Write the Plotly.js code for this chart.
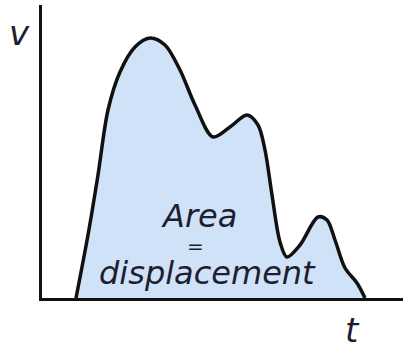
<!DOCTYPE html>
<html>
<head>
<meta charset="utf-8">
<script src="https://cdn.plot.ly/plotly-3.0.1.min.js"></script>
<style>html,body{margin:0;padding:0;background:#fff;}#chart{width:403px;height:351px;}</style>
</head>
<body>
<div id="chart"></div>
<script>
// Time values (arbitrary units) along the curve
const tValues = [34,46,56,66,78,93,108,123,138,153,171,188,205,216,223,230,238,245,258,276,285,293,303,315,323];
// Velocity values (arbitrary units)
const vValues = [0,63,123,188,226,251,260,253,228,193,161,171,183,173,148,103,56,41,53,81,78,58,30,15,0];

const axisLabels = ["v", "t"];
const areaLines = ["Area", "=", "displacement"];

const textColor = "#1e1e30";
const fontFam = "DejaVu Sans, sans-serif";

const trace = {
  x: tValues,
  y: vValues,
  type: "scatter",
  mode: "lines",
  fill: "tozeroy",
  fillcolor: "#cfe2f8",
  line: {color: "#111111", width: 3.5, shape: "spline", smoothing: 0.9},
  hoverinfo: "skip"
};

const layout = {
  width: 403,
  height: 351,
  margin: {l: 42, r: 0, t: 5, b: 53},
  paper_bgcolor: "#ffffff",
  plot_bgcolor: "#ffffff",
  showlegend: false,
  xaxis: {range: [0, 361], showline: true, linewidth: 3, linecolor: "#111111",
          showgrid: false, zeroline: false, showticklabels: false, ticks: "", fixedrange: true},
  yaxis: {range: [0, 293], showline: true, linewidth: 3, linecolor: "#111111",
          showgrid: false, zeroline: false, showticklabels: false, ticks: "", fixedrange: true},
  annotations: [
    {x: -0.062, y: 0.905, xref: "paper", yref: "paper", text: "<i>" + axisLabels[0] + "</i>", showarrow: false,
     font: {family: fontFam, size: 34, color: textColor}, xanchor: "center", yanchor: "middle"},
    {x: 0.861, y: -0.11, xref: "paper", yref: "paper", text: "<i>" + axisLabels[1] + "</i>", showarrow: false,
     font: {family: fontFam, size: 34, color: textColor}, xanchor: "center", yanchor: "middle"},
    {x: 157, y: 82, xref: "x", yref: "y", text: "<i>" + areaLines[0] + "</i>", showarrow: false, borderpad: 0,
     font: {family: fontFam, size: 32, color: textColor}, xanchor: "center", yanchor: "middle"},
    {x: 153, y: 52, xref: "x", yref: "y", text: areaLines[1], showarrow: false, borderpad: 0,
     font: {family: fontFam, size: 20, color: textColor}, xanchor: "center", yanchor: "middle"},
    {x: 165.5, y: 25, xref: "x", yref: "y", text: "<i>" + areaLines[2] + "</i>", showarrow: false, borderpad: 0,
     font: {family: fontFam, size: 32, color: textColor}, xanchor: "center", yanchor: "middle"}
  ]
};

Plotly.newPlot("chart", [trace], layout, {staticPlot: true, displayModeBar: false});
</script>
</body>
</html>
